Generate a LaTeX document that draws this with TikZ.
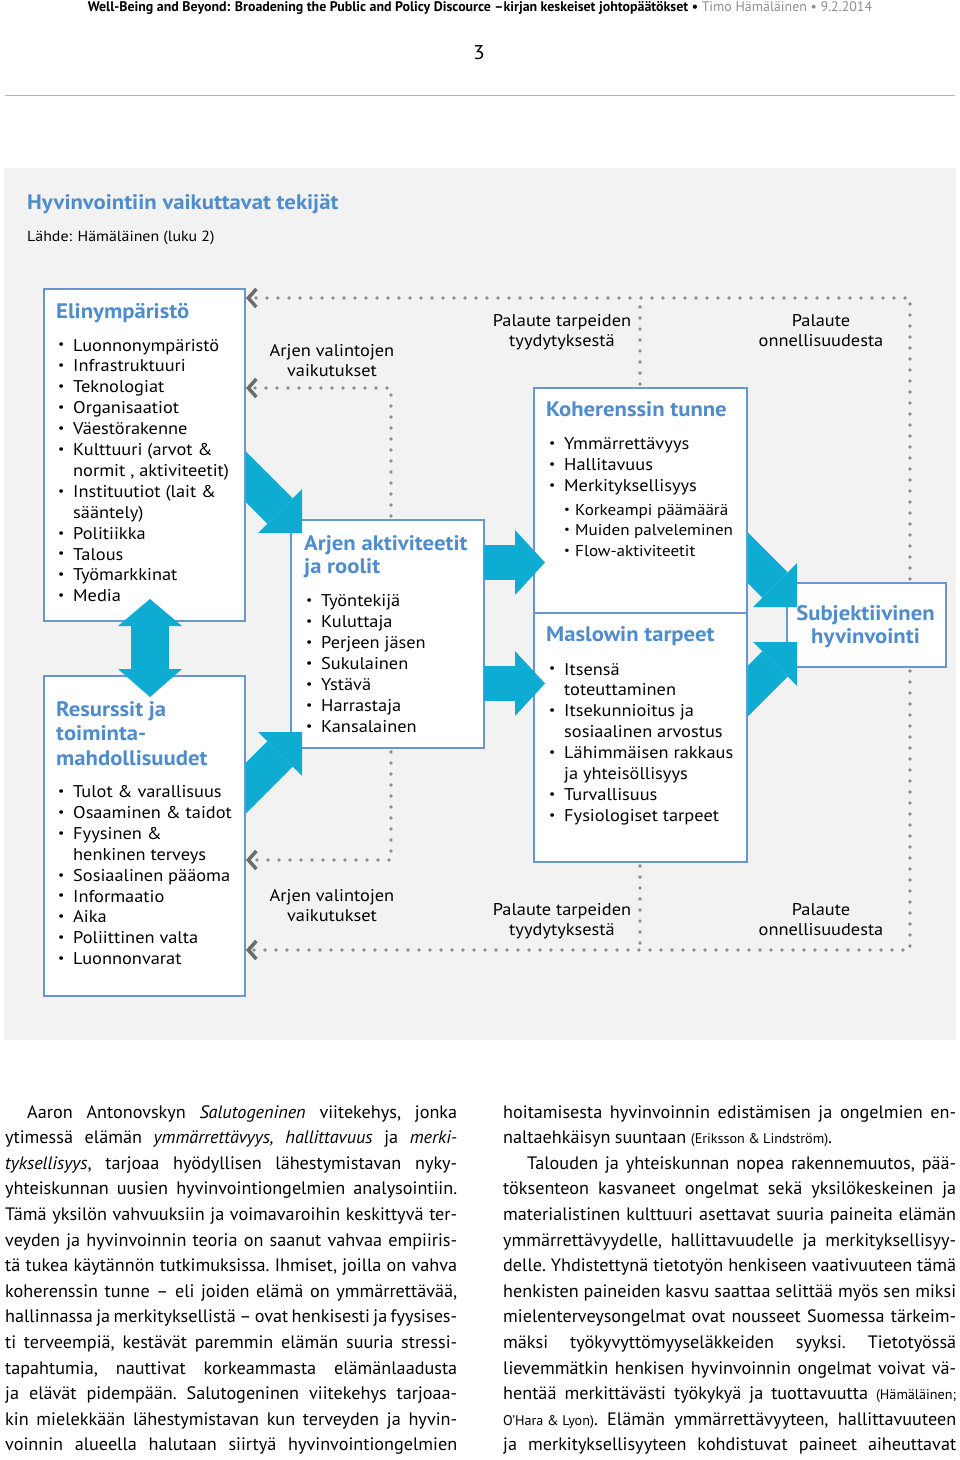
\documentclass[tikz,border=0pt]{standalone}
\usepackage{fontspec}
\usepackage{graphicx}
\setmainfont[FakeStretch=1.08]{PT Sans}
\newfontfamily\headfont{PT Sans}
\newfontfamily\bodyfam[FakeStretch=1.01]{PT Sans}
\usetikzlibrary{arrows.meta}
\definecolor{panelgray}{HTML}{F2F2F2}
\definecolor{titleblue}{HTML}{4F8CCB}
\definecolor{boxblue}{HTML}{6797CC}
\definecolor{arrowcyan}{HTML}{0EABD3}
\definecolor{dotgray}{HTML}{8C8C8C}
\definecolor{chevgray}{HTML}{6B6B6B}
\definecolor{headgray}{HTML}{8F8F8F}
\definecolor{rulegray}{HTML}{B4B4B4}
\newcommand{\bul}{\raisebox{0.12em}{\scalebox{0.75}{•}}}
\newlength{\colw}
\newcommand{\fullln}[1]{\hbox to \colw{#1}}
\newcommand{\lastln}[1]{\hbox{#1}}
\newcommand{\refsm}[1]{{\fontsize{14}{14}\selectfont\spaceskip=0.24em plus 0.05em #1}}
\newcommand{\bodyfont}{\bodyfam\fontsize{18}{25.6}\selectfont\frenchspacing
  \spaceskip=0.25em plus 0.5em minus 0.1em\hbadness=10000\baselineskip=25.6pt}

\begin{document}
\begin{tikzpicture}[
  x=1pt,
  y=-1pt,
  every node/.style={inner sep=0pt},
  box/.style={draw=boxblue, line width=2pt, fill=white, anchor=north west},
  boxtitle/.style={anchor=base west, text=titleblue,
                   font=\fontsize{21}{24.5}\selectfont\bfseries},
  itemlist/.style={anchor=base west, font=\fontsize{17}{20.9}\selectfont},
  sublist/.style={anchor=base west, font=\fontsize{15.8}{20.8}\selectfont},
  fblabel/.style={anchor=base, font=\fontsize{17}{20}\selectfont},
  bigarrow/.style={arrowcyan, line width=36pt,
                   -{Triangle[length=31pt, width=62pt, line width=0pt]}},
  flatarrow/.style={arrowcyan, line width=35pt,
                    -{Triangle[length=30pt, width=65pt, line width=0pt]}},
  duoarrow/.style={arrowcyan, line width=38pt,
                   {Triangle[length=27pt, width=64pt, line width=0pt]}-{Triangle[length=28pt, width=64pt, line width=0pt]}},
  dots/.style={dotgray, line width=3.8pt, line cap=round,
               dash pattern=on 0pt off 11pt, shorten <=3pt},
  feedback/.style={dots,
                   -{Straight Barb[length=8pt, width=18pt, line width=3.5pt, color=chevgray]}}
]
  \useasboundingbox (0,0) rectangle (960,1460);
  \fill[white] (0,0) rectangle (960,1460);

  % ---- page head -------------------------------------------------------
  \node[anchor=base, font=\headfont\fontsize{13.9}{16}\selectfont] (head) at (480,11)
    {\textbf{Well-Being and Beyond: Broadening the Public and Policy Discource –kirjan keskeiset johtopäätökset •} \textcolor{headgray}{Timo Hämäläinen • 9.2.2014}};
  \node[anchor=base, font=\fontsize{20}{20}\selectfont] (pagenum) at (479,59) {3};
  \draw[rulegray, line width=1.6pt] (5,95.5) -- (955,95.5);

  % ---- grey panel and its title ----------------------------------------
  \fill[panelgray] (4,168) rectangle (956,1040);
  \node[anchor=base west, text=titleblue, font=\fontsize{21}{24}\selectfont\bfseries]
    (figtitle) at (27,209) {Hyvinvointiin vaikuttavat tekijät};
  \node[anchor=base west, font=\fontsize{14.7}{17}\selectfont] (source) at (27,241)
    {Lähde: Hämäläinen (luku 2)};

  % ---- boxes that the slanted arrows point into ------------------------
  \node[box, minimum width=193pt, minimum height=228pt] (arjen) at (290,519) {};
  \node[box, minimum width=159pt, minimum height=84pt] (subj) at (786,582) {};

  % ---- slanted arrows, tails hidden under the boxes they leave ---------
  \coordinate (elinOut) at (230,461);   \coordinate (arjenInA) at (302,533);
  \coordinate (resOut) at (230,804);    \coordinate (arjenInB) at (302,732);
  \coordinate (kohOut) at (735,545);    \coordinate (subjInK) at (797,607);
  \coordinate (maslowOut) at (735,704); \coordinate (subjInM) at (797,642);
  \draw[bigarrow] (elinOut) -- (arjenInA);
  \draw[bigarrow] (resOut) -- (arjenInB);
  \draw[bigarrow] (kohOut) -- (subjInK);
  \draw[bigarrow] (maslowOut) -- (subjInM);

  % ---- the other boxes -------------------------------------------------
  \node[box, minimum width=201pt, minimum height=332pt] (elin) at (43,288) {};
  \node[box, minimum width=201pt, minimum height=320pt] (res) at (43,675) {};
  \node[box, minimum width=213pt, minimum height=225pt] (koh) at (533,387) {};
  \node[box, minimum width=213pt, minimum height=249pt] (maslow) at (533,612) {};

  % ---- straight arrows on top ------------------------------------------
  \coordinate (arjenOutK) at (484,562.5); \coordinate (kohIn) at (545,562.5);
  \coordinate (arjenOutM) at (484,683.5); \coordinate (maslowIn) at (545,683.5);
  \coordinate (duoTop) at (150,599);      \coordinate (duoBot) at (150,697);
  \draw[flatarrow] (arjenOutK) -- (kohIn);
  \draw[flatarrow] (arjenOutM) -- (maslowIn);
  \draw[duoarrow] (duoTop) -- (duoBot);

  % ---- box contents ----------------------------------------------------
  \node[boxtitle] (elinttl) at (56,318) {Elinympäristö};
  \node[itemlist] (elinlist) at (58,351) {\begin{tabular}[t]{@{}p{15pt}@{}l@{}}
    \bul & Luonnonympäristö\\ \bul & Infrastruktuuri\\ \bul & Teknologiat\\
    \bul & Organisaatiot\\ \bul & Väestörakenne\\ \bul & Kulttuuri (arvot \&\\
    & normit , aktiviteetit)\\ \bul & Instituutiot (lait \&\\ & sääntely)\\
    \bul & Politiikka\\ \bul & Talous\\ \bul & Työmarkkinat\\ \bul & Media
  \end{tabular}};

  \node[boxtitle] (resttl) at (56,716) {\begin{tabular}[t]{@{}l@{}}
    Resurssit ja\\ toiminta-\\ mahdollisuudet\end{tabular}};
  \node[itemlist] (reslist) at (58,797.5) {\begin{tabular}[t]{@{}p{15pt}@{}l@{}}
    \bul & Tulot \& varallisuus\\ \bul & Osaaminen \& taidot\\ \bul & Fyysinen \&\\
    & henkinen terveys\\ \bul & Sosiaalinen pääoma\\ \bul & Informaatio\\
    \bul & Aika\\ \bul & Poliittinen valta\\ \bul & Luonnonvarat
  \end{tabular}};

  \node[boxtitle, font=\fontsize{21}{23.5}\selectfont\bfseries] (arjenttl) at (304,550)
    {\begin{tabular}[t]{@{}l@{}}Arjen aktiviteetit\\ ja roolit\end{tabular}};
  \node[itemlist] (arjenlist) at (306,606.7) {\begin{tabular}[t]{@{}p{15pt}@{}l@{}}
    \bul & Työntekijä\\ \bul & Kuluttaja\\ \bul & Perjeen jäsen\\ \bul & Sukulainen\\
    \bul & Ystävä\\ \bul & Harrastaja\\ \bul & Kansalainen
  \end{tabular}};

  \node[boxtitle] (kohttl) at (546,416.7) {Koherenssin tunne};
  \node[itemlist] (kohlist) at (549,449.3) {\begin{tabular}[t]{@{}p{15pt}@{}l@{}}
    \bul & Ymmärrettävyys\\ \bul & Hallitavuus\\ \bul & Merkityksellisyys
  \end{tabular}};
  \node[sublist] (kohsub) at (564,515) {\begin{tabular}[t]{@{}p{11pt}@{}l@{}}
    \bul & Korkeampi päämäärä\\ \bul & Muiden palveleminen\\ \bul & Flow-aktiviteetit
  \end{tabular}};

  \node[boxtitle] (maslowttl) at (546,641.7) {Maslowin tarpeet};
  \node[itemlist] (maslowlist) at (549,675) {\begin{tabular}[t]{@{}p{15pt}@{}l@{}}
    \bul & Itsensä\\ & toteuttaminen\\ \bul & Itsekunnioitus ja\\
    & sosiaalinen arvostus\\ \bul & Lähimmäisen rakkaus\\ & ja yhteisöllisyys\\
    \bul & Turvallisuus\\ \bul & Fysiologiset tarpeet
  \end{tabular}};

  \node[boxtitle, anchor=base, font=\fontsize{21}{22.8}\selectfont\bfseries] (subjttl)
    at (865.5,620.7) {\begin{tabular}[t]{@{}c@{}}Subjektiivinen\\ hyvinvointi\end{tabular}};

  % ---- dotted feedback lines -------------------------------------------
  \coordinate (fbtop) at (910,298);   \coordinate (fbsat) at (640,298);
  \coordinate (fbupper) at (391,388); \coordinate (fblower) at (391,860);
  \coordinate (fbbot) at (910,950);   \coordinate (fbsatb) at (640,950);
  \draw[feedback] (subj.north -| fbtop) |- (elin.east |- fbtop);
  \draw[dots] (koh.north -| fbsat) -- (fbsat);
  \draw[feedback] (arjen.north -| fbupper) |- (elin.east |- fbupper);
  \draw[feedback] (arjen.south -| fblower) |- (res.east |- fblower);
  \draw[feedback] (subj.south -| fbbot) |- (res.east |- fbbot);
  \draw[dots] (maslow.south -| fbsatb) -- (fbsatb);

  % ---- labels of the feedback ------------------------------------------
  \node[fblabel] (choiceup) at (332,356) {\begin{tabular}[t]{@{}c@{}}Arjen valintojen\\ vaikutukset\end{tabular}};
  \node[fblabel] (choicedn) at (332,901.5) {\begin{tabular}[t]{@{}c@{}}Arjen valintojen\\ vaikutukset\end{tabular}};
  \node[fblabel] (needsup) at (562,326.5) {\begin{tabular}[t]{@{}c@{}}Palaute tarpeiden\\ tyydytyksestä\end{tabular}};
  \node[fblabel] (needsdn) at (562,915) {\begin{tabular}[t]{@{}c@{}}Palaute tarpeiden\\ tyydytyksestä\end{tabular}};
  \node[fblabel] (happyup) at (821,326.5) {\begin{tabular}[t]{@{}c@{}}Palaute\\ onnellisuudesta\end{tabular}};
  \node[fblabel] (happydn) at (821,915) {\begin{tabular}[t]{@{}c@{}}Palaute\\ onnellisuudesta\end{tabular}};

  % ---- running text, two columns ---------------------------------------
  \node[anchor=base west] (colleft) at (5,1118) {\vtop{\bodyfont\setlength{\colw}{452pt}%
    \fullln{\hspace*{22pt}Aaron Antonovskyn \textit{Salutogeninen} viitekehys, jonka}
    \fullln{ytimessä elämän \textit{ymmärrettävyys, hallittavuus} ja \textit{merki-}}
    \fullln{\textit{tyksellisyys}, tarjoaa hyödyllisen lähestymistavan nyky-}
    \fullln{yhteiskunnan uusien hyvinvointiongelmien analysointiin.}
    \fullln{Tämä yksilön vahvuuksiin ja voimavaroihin keskittyvä ter-}
    \fullln{veyden ja hyvinvoinnin teoria on saanut vahvaa empiiris-}
    \fullln{tä tukea käytännön tutkimuksissa. Ihmiset, joilla on vahva}
    \fullln{koherenssin tunne – eli joiden elämä on ymmärrettävää,}
    \fullln{hallinnassa ja merkityksellistä – ovat henkisesti ja fyysises-}
    \fullln{ti terveempiä, kestävät paremmin elämän suuria stressi-}
    \fullln{tapahtumia, nauttivat korkeammasta elämänlaadusta}
    \fullln{ja elävät pidempään. Salutogeninen viitekehys tarjoaa-}
    \fullln{kin mielekkään lähestymistavan kun terveyden ja hyvin-}
    \fullln{voinnin alueella halutaan siirtyä hyvinvointiongelmien}}};
  \node[anchor=base west] (colright) at (503,1118) {\vtop{\bodyfont\setlength{\colw}{453pt}%
    \fullln{hoitamisesta hyvinvoinnin edistämisen ja ongelmien en-}
    \lastln{naltaehkäisyn suuntaan \refsm{(Eriksson \& Lindström)}.}
    \fullln{\hspace*{24pt}Talouden ja yhteiskunnan nopea rakennemuutos, pää-}
    \fullln{töksenteon kasvaneet ongelmat sekä yksilökeskeinen ja}
    \fullln{materialistinen kulttuuri asettavat suuria paineita elämän}
    \fullln{ymmärrettävyydelle, hallittavuudelle ja merkityksellisyy-}
    \fullln{delle. Yhdistettynä tietotyön henkiseen vaativuuteen tämä}
    \fullln{henkisten paineiden kasvu saattaa selittää myös sen miksi}
    \fullln{mielenterveysongelmat ovat nousseet Suomessa tärkeim-}
    \fullln{mäksi työkyvyttömyyseläkkeiden syyksi. Tietotyössä}
    \fullln{lievemmätkin henkisen hyvinvoinnin ongelmat voivat vä-}
    \fullln{hentää merkittävästi työkykyä ja tuottavuutta \refsm{(Hämäläinen;}}
    \fullln{\refsm{O’Hara \& Lyon)}. Elämän ymmärrettävyyteen, hallittavuuteen}
    \fullln{ja merkityksellisyyteen kohdistuvat paineet aiheuttavat}}};
\end{tikzpicture}
\end{document}
